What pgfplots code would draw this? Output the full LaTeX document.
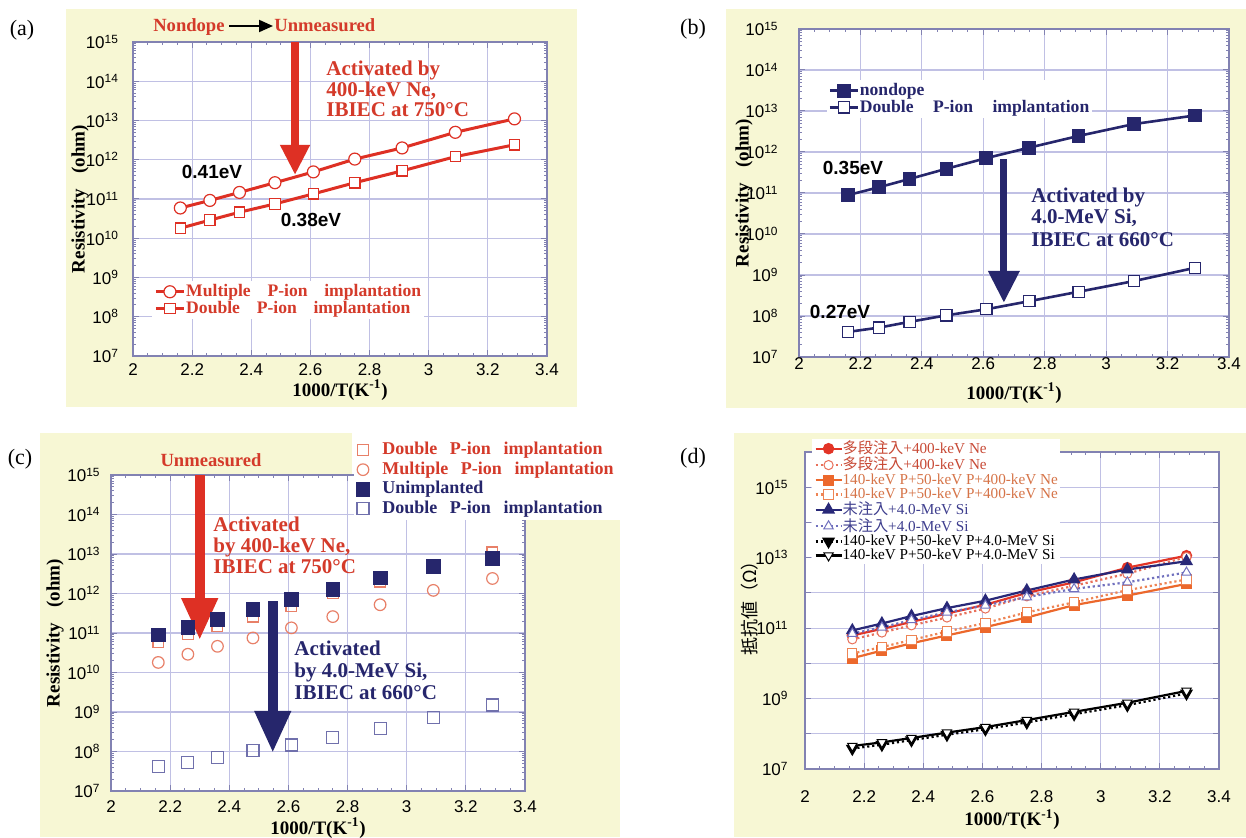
\documentclass[border=0pt]{standalone}
\usepackage{pgfplots}
\pgfplotsset{compat=1.18}
\usepackage{pgfplotstable}
\usepackage{fontspec}
\setmainfont{Liberation Serif}
\newfontfamily\sans{Liberation Sans}
\newfontfamily\cjk{Noto Sans CJK JP}
\usetikzlibrary{arrows.meta}

\definecolor{bgy}{RGB}{247,247,212}
\definecolor{gridc}{RGB}{192,192,228}
\definecolor{axc}{RGB}{130,130,178}
\definecolor{rred}{RGB}{222,48,36}
\definecolor{tred}{RGB}{212,58,42}
\definecolor{navy}{RGB}{38,38,108}
\definecolor{lnavy}{RGB}{112,112,172}
\definecolor{pinkr}{RGB}{232,128,104}
\definecolor{dred}{RGB}{226,52,38}
\definecolor{dred2}{RGB}{232,112,90}
\definecolor{dor}{RGB}{236,104,44}
\definecolor{dor2}{RGB}{238,132,84}
\definecolor{dnavy}{RGB}{40,40,120}
\definecolor{dnavy2}{RGB}{112,112,190}
\definecolor{dt1}{RGB}{200,74,54}
\definecolor{dt2}{RGB}{214,116,72}
\definecolor{dt3}{RGB}{62,62,142}

\newcommand{\tickfont}{\sans\fontsize{8.5}{9}\selectfont}
\newcommand{\annfont}{\bfseries\fontsize{10.5}{11}\selectfont}
\newcommand{\legfont}{\bfseries\fontsize{8.8}{9}\selectfont}
\newcommand{\labfont}{\bfseries\fontsize{9.5}{10}\selectfont}
\newcommand{\evfont}{\sans\bfseries\fontsize{9.5}{10}\selectfont}
\newcommand{\panfont}{\fontsize{11}{12}\selectfont}
\newcommand{\dlegfont}{\fontsize{7.6}{7.6}\selectfont}
\newcommand{\ws}{\hspace{0.95em}}
\newcommand{\sx}[1]{10\textsuperscript{#1}}

\pgfplotstableread{
x    am      ad
2.16 5.9e10  1.8e10
2.26 9.2e10  2.9e10
2.36 1.47e11 4.6e10
2.48 2.6e11  7.5e10
2.61 4.9e11  1.35e11
2.75 1.04e12 2.6e11
2.91 2.0e12  5.2e11
3.09 5.0e12  1.2e12
3.29 1.1e13  2.4e12
}\tabA
\pgfplotstableread{
x    bn      bd
2.16 8.9e10  4.1e7
2.26 1.38e11 5.2e7
2.36 2.2e11  7.2e7
2.48 3.9e11  1.04e8
2.61 7.1e11  1.46e8
2.75 1.28e12 2.3e8
2.91 2.46e12 3.9e8
3.09 4.8e12  7.1e8
3.29 7.8e12  1.5e9
}\tabB
\pgfplotstableread{
x    d1      d2      d3      d4      d5      d6      d7     d8
2.16 6.2e10  4.8e10  1.4e10  1.9e10  8.6e10  7.0e10  3.8e7  4.5e7
2.26 9.5e10  7.5e10  2.3e10  2.9e10  1.35e11 1.05e11 4.9e7  5.7e7
2.36 1.5e11  1.2e11  3.7e10  4.6e10  2.2e11  1.7e11  6.6e7  7.6e7
2.48 2.6e11  2.0e11  6.2e10  8.0e10  3.7e11  2.8e11  9.4e7  1.08e8
2.61 4.6e11  3.6e11  1.07e11 1.4e11  6.0e11  4.4e11  1.35e8 1.55e8
2.75 1.0e12  8.0e11  2.0e11  2.8e11  1.17e12 7.6e11  2.1e8  2.45e8
2.91 2.0e12  1.6e12  4.5e11  5.4e11  2.4e12  1.3e12  3.6e8  4.2e8
3.09 5.2e12  3.5e12  8.4e11  1.2e12  4.6e12  2.0e12  6.5e8  7.6e8
3.29 1.14e13 1.05e13 1.8e12  2.4e12  7.9e12  3.8e12  1.4e9  1.65e9
}\tabD

\pgfplotsset{
  every axis/.append style={
    scale only axis,
    xmin=2, xmax=3.4,
    xtick={2,2.2,2.4,2.6,2.8,3,3.2,3.4},
    xticklabels={2,2.2,2.4,2.6,2.8,3,3.2,3.4},
    minor x tick num=3,
    grid=major,
    major grid style={gridc, line width=0.6pt},
    axis line style={axc, line width=0.8pt},
    tick style={axc, line width=0.5pt},
    tick align=inside,
    major tick length=3pt, minor tick length=1.6pt,
    axis background/.style={fill=white},
    ticklabel style={font=\tickfont, text=black},
    xlabel style={font=\labfont, anchor=center},
    ylabel style={font=\labfont, anchor=center},
    legend cell align=left,
  },
}

\begin{document}
\begin{tikzpicture}[x=0.5pt,y=0.5pt]
\path[use as bounding box] (0,0) rectangle (1246,837);
% backgrounds
\fill[bgy] (66,430) rectangle (577,828);
\fill[bgy] (726,429) rectangle (1246,828);
\fill[bgy] (40,0) rectangle (620,404);
\fill[white] (352,317) rectangle (620,404);
\fill[bgy] (734,0) rectangle (1246,404);

% ================= (a)
\begin{axis}[at={(66.5pt,240.5pt)}, anchor=south west, width=207pt, height=157pt,
  ymode=log, ymin=1e7, ymax=1e15,
  ytick={1e7,1e8,1e9,1e10,1e11,1e12,1e13,1e14,1e15},
  yticklabels={\sx{7},\sx{8},\sx{9},\sx{10},\sx{11},\sx{12},\sx{13},\sx{14},\sx{15}},
  xlabel={1000/T(K\textsuperscript{-1})},
  ylabel={Resistivity\hspace{0.8em}(ohm)},
  xticklabel style={anchor=center, yshift=-7pt},
  yticklabel style={xshift=-3.5pt},
  xlabel style={at={(axis description cs:0.5,-0.108)}},
  ylabel style={at={(axis description cs:-0.128,0.5)}},
  legend image code/.code={\draw[mark repeat=2,mark phase=2,#1] plot coordinates {(0pt,0pt) (7pt,0pt) (14pt,0pt)};},
  legend style={at={(0.046,0.239)}, anchor=north west, draw=none, fill=white,
    font=\legfont, inner sep=1pt, nodes={inner sep=0.4pt}},
]
\addplot[rred, line width=1.5pt, mark=*, mark size=3pt, mark options={fill=white, draw=rred, line width=0.6pt}] table[x=x,y=am] {\tabA};
\addlegendentry{\textcolor{tred}{Multiple\ws P-ion\ws implantation}}
\addplot[rred, line width=1.5pt, mark=square*, mark size=2.6pt, mark options={fill=white, draw=rred, line width=0.6pt}] table[x=x,y=ad] {\tabA};
\addlegendentry{\textcolor{tred}{Double\ws P-ion\ws implantation}}
\draw[rred, line width=3.6pt, -{Triangle[width=14pt,length=15pt]}] (axis cs:2.548,1e15) -- (axis cs:2.548,4.1e11);
\end{axis}
\node[font=\panfont] at (22,807) {(a)};
\node[anchor=base east, inner sep=0, font=\bfseries\fontsize{9.3}{10}\selectfont, text=tred] at (225,805) {Nondope};
\draw[line width=1pt, -{Triangle[width=6pt,length=7pt]}] (229,811) -- (273,811);
\node[anchor=base west, inner sep=0, font=\bfseries\fontsize{9.3}{10}\selectfont, text=tred] at (274,805) {Unmeasured};
\node[anchor=base west, inner sep=0, font=\annfont, text=tred] at (326,761) {Activated by};
\node[anchor=base west, inner sep=0, font=\annfont, text=tred] at (326,740) {400-keV Ne,};
\node[anchor=base west, inner sep=0, font=\annfont, text=tred] at (326,720) {IBIEC at 750°C};
\node[font=\evfont] at (212,665) {0.41eV};
\node[font=\evfont] at (311,617) {0.38eV};

% ================= (b)
\begin{axis}[at={(399.5pt,240pt)}, anchor=south west, width=215pt, height=164pt,
  ymode=log, ymin=1e7, ymax=1e15,
  ytick={1e7,1e8,1e9,1e10,1e11,1e12,1e13,1e14,1e15},
  yticklabels={\sx{7},\sx{8},\sx{9},\sx{10},\sx{11},\sx{12},\sx{13},\sx{14},\sx{15}},
  xlabel={1000/T(K\textsuperscript{-1})},
  ylabel={Resistivity\hspace{0.8em}(ohm)},
  xticklabel style={anchor=center, yshift=-3.5pt},
  yticklabel style={xshift=-6.7pt},
  xlabel style={at={(axis description cs:0.5,-0.110)}},
  ylabel style={at={(axis description cs:-0.128,0.5)}},
  legend image code/.code={\draw[mark repeat=2,mark phase=2,#1] plot coordinates {(0pt,0pt) (7pt,0pt) (14pt,0pt)};},
  legend style={at={(0.063,0.845)}, anchor=north west, draw=none, fill=white,
    font=\legfont, inner sep=1pt, nodes={inner sep=0.4pt}},
]
\addplot[navy, line width=1.3pt, mark=square*, mark size=2.8pt, mark options={fill=navy}] table[x=x,y=bn] {\tabB};
\addlegendentry{\textcolor{navy}{nondope}}
\addplot[navy, line width=1.3pt, mark=square*, mark size=2.8pt, mark options={fill=white, draw=navy, line width=0.6pt}] table[x=x,y=bd] {\tabB};
\addlegendentry{\textcolor{navy}{Double\hspace{1.1em}P-ion\hspace{1.1em}implantation}}
\draw[navy, line width=3.6pt, -{Triangle[width=15pt,length=16pt]}] (axis cs:2.667,6.7e11) -- (axis cs:2.667,2.1e8);
\end{axis}
\node[font=\panfont] at (693,808) {(b)};
\node[font=\evfont] at (853,669) {0.35eV};
\node[font=\evfont] at (840,525) {0.27eV};
\node[anchor=base west, inner sep=0, font=\annfont, text=navy] at (1031,634) {Activated by};
\node[anchor=base west, inner sep=0, font=\annfont, text=navy] at (1031,613) {4.0-MeV Si,};
\node[anchor=base west, inner sep=0, font=\annfont, text=navy] at (1031,591) {IBIEC at 660°C};

% ================= (c)
\begin{axis}[at={(55.5pt,23pt)}, anchor=south west, width=207pt, height=158pt,
  ymode=log, ymin=1e7, ymax=1e15,
  ytick={1e7,1e8,1e9,1e10,1e11,1e12,1e13,1e14,1e15},
  yticklabels={\sx{7},\sx{8},\sx{9},\sx{10},\sx{11},\sx{12},\sx{13},\sx{14},\sx{15}},
  xlabel={1000/T(K\textsuperscript{-1})},
  ylabel={Resistivity\hspace{0.8em}(ohm)},
  xticklabel style={anchor=center, yshift=-8pt},
  yticklabel style={xshift=-1.7pt},
  xlabel style={at={(axis description cs:0.5,-0.118)}},
  ylabel style={at={(axis description cs:-0.135,0.5)}},
  legend image code/.code={\draw[#1] plot coordinates {(3.5pt,0pt)}; \path (0pt,0pt) (12pt,0pt);},
  legend style={at={(0.585,1.117)}, anchor=north west, draw=none, fill=white,
    font=\bfseries\fontsize{9}{9.5}\selectfont, inner sep=1pt, nodes={inner sep=1pt}},
]
\addplot[only marks, mark=square, mark size=2.7pt, mark options={draw=pinkr, line width=0.6pt}] table[x=x,y=am] {\tabA};
\addlegendentry{\textcolor{tred}{Double\hspace{0.7em}P-ion\hspace{0.7em}implantation}}
\addplot[only marks, mark=o, mark size=2.9pt, mark options={draw=pinkr, line width=0.6pt}] table[x=x,y=ad] {\tabA};
\addlegendentry{\textcolor{tred}{Multiple\hspace{0.7em}P-ion\hspace{0.7em}implantation}}
\addplot[only marks, mark=square*, mark size=3.4pt, mark options={draw=navy, fill=navy}] table[x=x,y=bn] {\tabB};
\addlegendentry{\textcolor{navy}{Unimplanted}}
\addplot[only marks, mark=square, mark size=3pt, mark options={draw=lnavy, line width=0.6pt}] table[x=x,y=bd] {\tabB};
\addlegendentry{\textcolor{navy}{Double\hspace{0.7em}P-ion\hspace{0.7em}implantation}}
\draw[rred, line width=5pt, -{Triangle[width=17pt,length=21pt]}] (axis cs:2.30,1e15) -- (axis cs:2.30,6.6e10);
\draw[navy, line width=5pt, -{Triangle[width=17pt,length=21pt]}] (axis cs:2.547,6.4e11) -- (axis cs:2.547,9.2e7);
\end{axis}
\node[font=\panfont] at (20,378) {(c)};
\node[anchor=base, inner sep=0, font=\bfseries\fontsize{9.3}{10}\selectfont, text=tred] at (211,371) {Unmeasured};
\node[anchor=base west, inner sep=0, font=\annfont, text=tred] at (213,306) {Activated};
\node[anchor=base west, inner sep=0, font=\annfont, text=tred] at (213,285) {by 400-keV Ne,};
\node[anchor=base west, inner sep=0, font=\annfont, text=tred] at (213,264) {IBIEC at 750°C};
\node[anchor=base west, inner sep=0, font=\annfont, text=navy] at (294,182) {Activated};
\node[anchor=base west, inner sep=0, font=\annfont, text=navy] at (294,160) {by 4.0-MeV Si,};
\node[anchor=base west, inner sep=0, font=\annfont, text=navy] at (294,138) {IBIEC at 660°C};

% ================= (d)
\begin{axis}[at={(402.5pt,34pt)}, anchor=south west, width=207pt, height=158.5pt,
  ymode=log, ymin=1e7, ymax=1e16,
  ytick={1e7,1e9,1e11,1e13,1e15},
  yticklabels={\sx{7},\sx{9},\sx{11},\sx{13},\sx{15}},
  extra y ticks={1e8,1e10,1e12,1e14},
  extra y tick labels={},
  extra y tick style={grid=major},
  xlabel={1000/T(K\textsuperscript{-1})},
  ylabel={{\cjk 抵抗値（Ω）}},
  xticklabel style={anchor=center, yshift=-14pt},
  yticklabel style={xshift=-4.7pt},
  xlabel style={at={(axis description cs:0.5,-0.16)}},
  ylabel style={font=\fontsize{9}{10}\selectfont, at={(axis description cs:-0.133,0.52)}},
  legend image code/.code={\draw[mark repeat=2,mark phase=2,#1] plot coordinates {(0pt,0pt) (6.5pt,0pt) (13pt,0pt)};},
  legend style={at={(0.017,1.043)}, anchor=north west, draw=none, fill=white,
    font=\dlegfont, inner sep=1pt, nodes={inner sep=0pt}, row sep=0.3pt},
]
\addplot[dred, line width=1.1pt, mark=*, mark size=2.3pt, mark options={solid, fill=dred}] table[x=x,y=d1] {\tabD};
\addlegendentry{\textcolor{dt1}{{\cjk 多段注入}+400-keV Ne}}
\addplot[dred2, line width=1.1pt, dash pattern=on 1.1pt off 1.4pt, mark=*, mark size=2.3pt, mark options={solid, fill=white, line width=0.5pt}] table[x=x,y=d2] {\tabD};
\addlegendentry{\textcolor{dt1}{{\cjk 多段注入}+400-keV Ne}}
\addplot[dor, line width=1.1pt, mark=square*, mark size=2.2pt, mark options={solid, fill=dor}] table[x=x,y=d3] {\tabD};
\addlegendentry{\textcolor{dt2}{140-keV P+50-keV P+400-keV Ne}}
\addplot[dor2, line width=1.1pt, dash pattern=on 1.1pt off 1.4pt, mark=square*, mark size=2.3pt, mark options={solid, fill=white, line width=0.5pt}] table[x=x,y=d4] {\tabD};
\addlegendentry{\textcolor{dt2}{140-keV P+50-keV P+400-keV Ne}}
\addplot[dnavy, line width=1.1pt, mark=triangle*, mark size=2.7pt, mark options={solid, fill=dnavy}] table[x=x,y=d5] {\tabD};
\addlegendentry{\textcolor{dt3}{{\cjk 未注入}+4.0-MeV Si}}
\addplot[dnavy2, line width=1.1pt, dash pattern=on 1.1pt off 1.4pt, mark=triangle*, mark size=2.7pt, mark options={solid, fill=white, line width=0.5pt}] table[x=x,y=d6] {\tabD};
\addlegendentry{\textcolor{dt3}{{\cjk 未注入}+4.0-MeV Si}}
\addplot[black, line width=1.1pt, dash pattern=on 1.1pt off 1.4pt, mark=triangle*, mark size=2.7pt, mark options={solid, fill=black, rotate=180}] table[x=x,y=d7] {\tabD};
\addlegendentry{140-keV P+50-keV P+4.0-MeV Si}
\addplot[black, line width=1.1pt, mark=triangle*, mark size=2.7pt, mark options={solid, fill=white, rotate=180, line width=0.5pt}] table[x=x,y=d8] {\tabD};
\addlegendentry{140-keV P+50-keV P+4.0-MeV Si}
\end{axis}
\node[font=\panfont] at (693,379) {(d)};
\end{tikzpicture}
\end{document}
